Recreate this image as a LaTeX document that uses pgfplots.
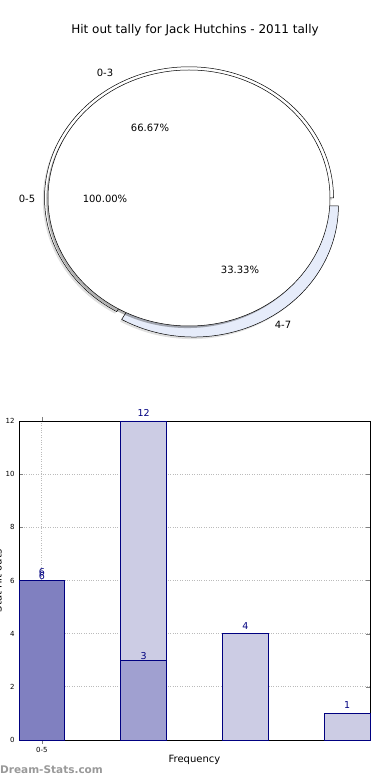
\documentclass[border=0pt]{standalone}
\usepackage{pgfplots}
\pgfplotsset{compat=1.18}
\usepackage{fontspec}
\setmainfont{DejaVu Sans}
\definecolor{navyb}{HTML}{000080}
\definecolor{barlight}{HTML}{CCCCE4}
\definecolor{barmid}{HTML}{A0A0D0}
\definecolor{bardark}{HTML}{8080C0}
\definecolor{wedgeblue}{HTML}{E6ECFA}
\definecolor{wm}{HTML}{999999}
\definecolor{gridc}{HTML}{BBBBBB}
\begin{document}
\begin{tikzpicture}[x=1pt,y=1pt]
\useasboundingbox (0,0) rectangle (390,780);
\node[font=\fontsize{12}{14}\selectfont] at (195,750) {Hit out tally for Jack Hutchins - 2011 tally};

% ---------- pie ----------
% outer ring: 0-3 = 2 (66.67%), 4-7 = 1 (33.33%); inner: 0-5 = 100%
\begin{axis}[at={(48pt,454pt)}, anchor=south west, scale only axis,
  width=282pt, height=256pt, xmin=-1, xmax=1, ymin=-1, ymax=1,
  hide axis, clip=false]
% shadows
\fill[black, opacity=0.12] (axis cs:-0.012,-0.016) -- (axis cs:1.013,-0.016)
  arc[start angle=0, end angle=240, x radius=144.5pt, y radius=131.2pt] -- cycle;
\fill[black, opacity=0.12] (axis cs:0.023,-0.077) -- (axis cs:-0.4895,-0.9647)
  arc[start angle=240, end angle=360, x radius=144.5pt, y radius=131.2pt] -- cycle;
% 0-3 wedge
\draw[black, line width=0.5pt, fill=white] (axis cs:0,0) -- (axis cs:1.025,0)
  arc[start angle=0, end angle=240, x radius=144.5pt, y radius=131.2pt] -- cycle;
% 4-7 wedge (exploded)
\draw[black, line width=0.5pt, fill=wedgeblue] (axis cs:0.035,-0.061) -- (axis cs:-0.4775,-0.9487)
  arc[start angle=240, end angle=360, x radius=144.5pt, y radius=131.2pt] -- cycle;
% inner pie shadow and wedge
\fill[black, opacity=0.3] (axis cs:-0.012,-0.016) ellipse[x radius=141pt, y radius=128pt];
\draw[black, line width=0.5pt, fill=white] (axis cs:0,0) ellipse[x radius=141pt, y radius=128pt];
\end{axis}
\begin{scope}[every node/.style={font=\fontsize{10}{12}\selectfont}]
\node at (105,707) {0-3};
\node at (150,652) {66.67\%};
\node at (27,581) {0-5};
\node at (105,581) {100.00\%};
\node at (240,510) {33.33\%};
\node at (283,455) {4-7};
\end{scope}

% ---------- bars ----------
\begin{axis}[at={(19pt,40pt)}, anchor=south west, scale only axis,
  width=351pt, height=319pt,
  xmin=-0.225, xmax=3.225, ymin=0, ymax=12,
  ytick={0,2,4,6,8,10,12}, xtick={0}, xticklabels={0-5},
  tick label style={font=\fontsize{7}{8}\selectfont},
  /pgf/number format/assume math mode=true,
  grid=major, grid style={dotted, gridc, line width=0.9pt},
  tick style={gray}, major tick length=4pt,
  axis line style={black, line width=0.6pt},
  ybar, bar width=0.45, clip=false,
  xlabel={Frequency},
  xlabel style={font=\fontsize{10}{12}\selectfont, at={(axis description cs:0.5,-0.0627)}, anchor=center},
  yticklabel style={xshift=-1pt},
]
\addplot[bar shift=0pt, draw=navyb, fill=barlight, line width=0.6pt,
  nodes near coords, every node near coord/.style={anchor=center, yshift=8pt, text=navyb, font=\fontsize{9.5}{11}\selectfont}]
  coordinates {(0,6) (1,12) (2,4) (3,1)};
\addplot[bar shift=0pt, draw=navyb, fill=bardark, line width=0.6pt,
  nodes near coords, every node near coord/.style={anchor=center, yshift=4pt, text=navyb, font=\fontsize{9.5}{11}\selectfont}]
  coordinates {(0,6)};
\addplot[bar shift=0pt, draw=navyb, fill=barmid, line width=0.6pt,
  nodes near coords, every node near coord/.style={anchor=center, yshift=4pt, text=navyb, font=\fontsize{9.5}{11}\selectfont}]
  coordinates {(1,3)};
\end{axis}
\node[rotate=90, font=\fontsize{10}{12}\selectfont] at (-2,199) {Stat Hit outs};
\node[anchor=west, text=wm, font=\bfseries\fontsize{10.5}{12}\selectfont, inner sep=0pt] at (0,10) {Dream-Stats.com};
\end{tikzpicture}
\end{document}
